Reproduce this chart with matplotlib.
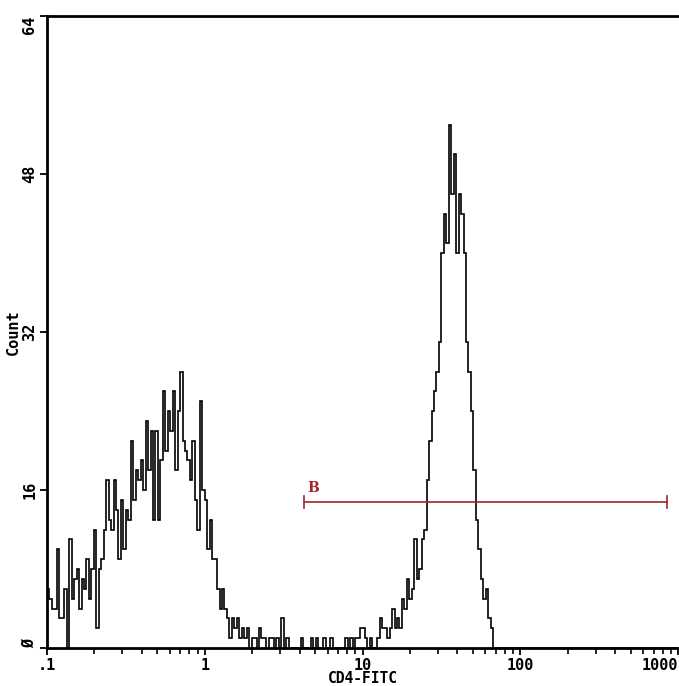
import numpy as np
import matplotlib
matplotlib.use('Agg')
import matplotlib.pyplot as plt
from matplotlib.ticker import FixedLocator, NullFormatter

# 256 log channels, 64 per decade, from 0.1 to 1000
counts = [
    6, 5, 4, 4, 10, 3, 3, 6, 0, 11, 5, 7, 8, 4, 7, 6,
    9, 5, 8, 12, 2, 8, 9, 12, 17, 13, 12, 17, 14, 9, 15, 10,
    14, 13, 21, 15, 18, 17, 19, 16, 23, 18, 22, 13, 22, 13, 19, 26,
    20, 24, 22, 26, 18, 24, 28, 21, 20, 19, 17, 21, 15, 12, 25, 16,
    15, 10, 13, 9, 9, 6, 4, 6, 4, 3, 1, 3, 2, 3, 1, 2,
    1, 2, 0, 1, 1, 0, 2, 1, 1, 0, 1, 1, 0, 1, 0, 3,
    0, 1, 0, 0, 0, 0, 0, 1, 0, 0, 0, 1, 0, 1, 0, 0,
    1, 0, 0, 1, 0, 0, 0, 0, 0, 1, 0, 1, 0, 1, 1, 2,
    2, 1, 0, 1, 0, 0, 1, 3, 2, 2, 1, 2, 4, 2, 3, 2,
    5, 4, 7, 5, 6, 11, 7, 8, 11, 12, 17, 21, 24, 26, 28, 31,
    40, 44, 41, 53, 46, 50, 40, 46, 44, 40, 31, 28, 24, 18, 13, 10,
    7, 5, 6, 3, 2, 0, 0, 0, 0, 0, 0, 0, 0, 0, 0, 0,
    0, 0, 0, 0, 0, 0, 0, 0, 0, 0, 0, 0, 0, 0, 0, 0,
    0, 0, 0, 0, 0, 0, 0, 0, 0, 0, 0, 0, 0, 0, 0, 0,
    0, 0, 0, 0, 0, 0, 0, 0, 0, 0, 0, 0, 0, 0, 0, 0,
    0, 0, 0, 0, 0, 0, 0, 0, 0, 0, 0, 0, 0, 0, 0, 0,
]
x_ticks = [0.1, 1, 10, 100, 1000]
x_labels = ['.1', '1', '10', '100', '1000']
y_ticks = [0, 16, 32, 48, 64]
y_labels = ['Ø', '16', '32', '48', '64']
gate_name = 'B'
gate_lo, gate_hi, gate_y = 4.24, 851, 14.8

edges = 0.1 * 10 ** (np.arange(len(counts) + 1) / 64)

mono = {'family': 'DejaVu Sans Mono', 'weight': 'bold', 'size': 11}
red = '#a3262a'

fig = plt.figure(figsize=(6.79, 6.86), dpi=100)
ax = fig.add_axes([47 / 679, 38 / 686, 631 / 679, 632 / 686])

ax.stairs(counts, edges, baseline=0, color='black', lw=1.2)

ax.set_xscale('log')
ax.set_xlim(0.1, 1000)
ax.set_ylim(0, 64)

ax.xaxis.set_major_locator(FixedLocator(x_ticks))
ax.set_xticklabels(x_labels, fontdict=mono)
minors = [m * 10.0 ** e for e in range(-1, 3) for m in range(2, 10)]
ax.xaxis.set_minor_locator(FixedLocator(minors))
ax.xaxis.set_minor_formatter(NullFormatter())
ax.get_xticklabels()[-1].set_ha('right')

ax.set_yticks(y_ticks)
ax.set_yticklabels(y_labels, fontdict=mono, rotation=90, va='center')
ax.get_yticklabels()[-1].set_va('top')
ax.get_yticklabels()[0].set_va('bottom')

ax.tick_params(axis='both', which='major', length=5, width=1.3, direction='out', pad=2)
ax.tick_params(axis='x', which='minor', length=4, width=1.2, direction='out')

for side in ['left', 'bottom', 'top']:
    ax.spines[side].set_linewidth(2)
ax.spines['right'].set_visible(False)

ax.set_xlabel('CD4-FITC', fontdict={**mono, 'size': 10.5}, labelpad=-1)
ax.set_ylabel('Count', fontdict=mono, labelpad=1)

# gate bar
ax.plot([gate_lo, gate_hi], [gate_y, gate_y], color=red, lw=1.2)
for gx in (gate_lo, gate_hi):
    ax.plot([gx, gx], [gate_y - 0.6, gate_y + 0.6], color=red, lw=1.2)
ax.text(4.5, gate_y + 0.7, gate_name, color=red, fontsize=10, fontweight='bold',
        family='DejaVu Serif', va='bottom', ha='left')

fig.savefig('out.png', dpi=100)
